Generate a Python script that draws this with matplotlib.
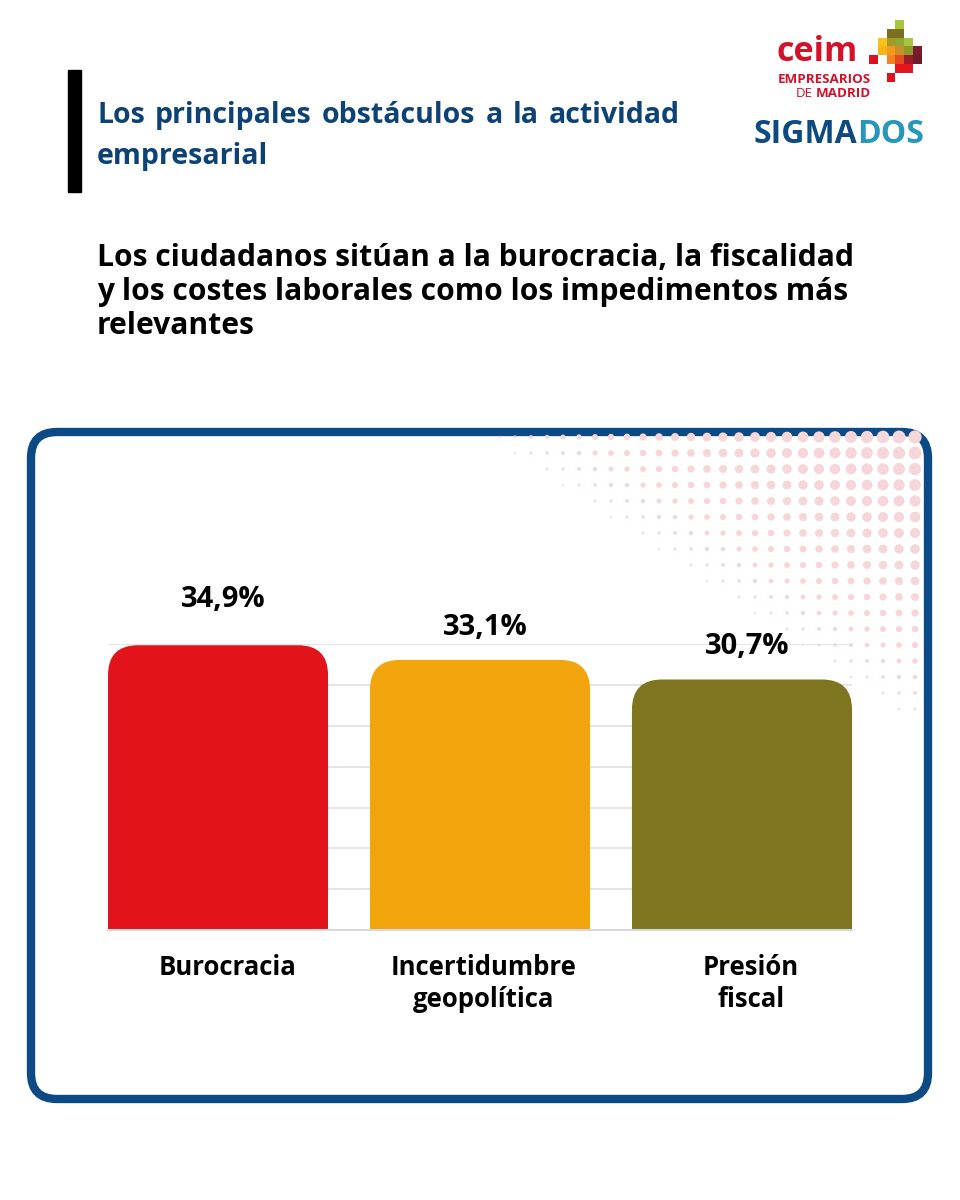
import matplotlib.pyplot as plt
from matplotlib.patches import FancyBboxPatch, Rectangle
import numpy as np

## Data ##
categories = ["Burocracia", "Incertidumbre\ngeopolítica", "Presión\nfiscal"]
values = [34.9, 33.1, 30.7]
value_labels = ["34,9%", "33,1%", "30,7%"]
bar_colors = ["#e3131b", "#f2a40c", "#7f7420"]

title_lines = ["Los principales obstáculos a la actividad", "empresarial"]
subtitle_lines = ["Los ciudadanos sitúan a la burocracia, la fiscalidad",
                  "y los costes laborales como los impedimentos más",
                  "relevantes"]

NAVY = "#0d4276"
FONT = "Open Sans"

fig = plt.figure(figsize=(9.6, 12), dpi=100)
fig.patch.set_facecolor("white")
renderer = fig.canvas.get_renderer()

## Background layer in pixel coordinates ##
bg = fig.add_axes([0, 0, 1, 1])
bg.set_xlim(0, 960)
bg.set_ylim(1200, 0)
bg.axis("off")

# black accent bar next to the title
bg.add_patch(Rectangle((68, 70), 13, 122, color="black"))

# justified title: first line spread between x0 and x1
def justified(words, y, x0, x1, **kw):
    texts = [bg.text(0, y, w, **kw) for w in words]
    widths = [t.get_window_extent(renderer).width for t in texts]
    gap = (x1 - x0 - sum(widths)) / (len(words) - 1)
    xp = x0
    for t, w in zip(texts, widths):
        t.set_x(xp)
        xp += w + gap

tkw = dict(fontsize=20.5, fontweight="bold", family=FONT, color=NAVY,
           va="baseline", ha="left")
justified(title_lines[0].split(), 123, 97, 680, **tkw)
bg.text(97, 164, title_lines[1], **tkw)

for i, line in enumerate(subtitle_lines):
    bg.text(97, 266 + i * 34, line, fontsize=21.6, fontweight="bold",
            family=FONT, color="black", va="baseline", ha="left")

## Logos ##
bg.text(777, 61, "ceim", fontsize=24.5, fontweight="bold", family=FONT,
        color="#d3122a", va="baseline", ha="left")
bg.text(871, 83, "EMPRESARIOS", fontsize=9.6, fontweight="bold", family=FONT,
        color="#d3122a", va="baseline", ha="right")
bg.text(871, 97, "MADRID", fontsize=9.6, fontweight="bold", family=FONT,
        color="#d3122a", va="baseline", ha="right")
bg.text(813, 97, "DE", fontsize=9.6, family=FONT,
        color="#d3122a", va="baseline", ha="right")

mosaic = [
    (0, 3, "#a8c53c"),
    (1, 2, "#7c6f20"), (1, 3, "#7c6f20"),
    (2, 1, "#f9c31a"), (2, 2, "#a69a2a"), (2, 3, "#90a830"), (2, 4, "#a8c53c"),
    (3, 1, "#f7b41a"), (3, 2, "#f39a1c"), (3, 3, "#c9902a"), (3, 4, "#8c9a2a"),
    (3, 5, "#7a1c2e"),
    (4, 0, "#d9141e"), (4, 2, "#f58220"), (4, 3, "#e64a1e"), (4, 4, "#9b1b2b"),
    (4, 5, "#6e1a2a"),
    (5, 3, "#e3151e"), (5, 4, "#e3151e"),
    (6, 2, "#d9141e"),
]
cell = 8.8
for r, c, col in mosaic:
    bg.add_patch(Rectangle((869 + c * cell, 20 + r * cell), cell, cell, color=col, lw=0))

bg.text(857, 143, "SIGMA", fontsize=23, fontweight="bold", family=FONT,
        color="#0d4a80", va="baseline", ha="right")
bg.text(857, 143, "DOS", fontsize=23, fontweight="bold", family=FONT,
        color="#2796bb", va="baseline", ha="left")

## Card with rounded border ##
bg.add_patch(FancyBboxPatch((31, 432), 897, 667,
                            boxstyle="round,pad=0,rounding_size=26",
                            facecolor="white", edgecolor="#0b4a85", lw=6))

# decorative halftone dots in the top-right of the card
gx, gy = np.meshgrid(np.arange(915, 490, -16), np.arange(437, 720, 16))
u = (915 - gx) / 425 + (gy - 437) / 285
keep = u < 1.0
diam = 1.8 + 11.5 * (1 - u[keep]) ** 0.75
bg.scatter(gx[keep], gy[keep], s=(diam * 0.72) ** 2, color="#f5d6d9",
           lw=0, zorder=2)

## Chart ##
ax = fig.add_axes([108 / 960, 270 / 1200, 744 / 960, 286 / 1200])
ax.patch.set_alpha(0)
ymax = 35.05
ax.set_xlim(-0.42, 2.42)
ax.set_ylim(0, ymax)
for s in ["top", "right", "left"]:
    ax.spines[s].set_visible(False)
ax.spines["bottom"].set_color("#d9d9d9")
ax.spines["bottom"].set_linewidth(1.5)
ax.set_yticks(np.arange(5, 36, 5))
ax.set_yticklabels([])
ax.tick_params(axis="y", length=0)
ax.grid(axis="y", color="#e3e3e3", lw=1.3)
ax.set_axisbelow(True)

x = np.arange(len(categories))
width = 0.84
bars = ax.bar(x, values, width=width, color=bar_colors, zorder=2)

# rounded tops: the bar keeps its lower part, a rounded box covers the rest
px_per_x = 744 / 2.84
px_per_y = 286 / ymax
r_px = 30
r_x = r_px / px_per_x
asp = px_per_x / px_per_y
for rect, col in zip(bars, bar_colors):
    x0, w, h = rect.get_x(), rect.get_width(), rect.get_height()
    rect.set_height(h / 2)
    ax.add_patch(FancyBboxPatch((x0, 0), w, h,
                                boxstyle=f"round,pad=0,rounding_size={r_x}",
                                mutation_aspect=asp, facecolor=col,
                                edgecolor="none", zorder=2))

label_offsets = [46, 32, 33]  # px above bar top
for xi, v, lab, off in zip(x, values, value_labels, label_offsets):
    ax.annotate(lab, (xi + 0.02, v), xytext=(0, off * 0.72), textcoords="offset points",
                ha="center", va="center", fontsize=21, fontweight="bold",
                family=FONT, color="black", annotation_clip=False)

ax.set_xticks(x + np.array([0.035, 0.015, 0.035]))
ax.set_xticklabels(categories, fontsize=18.5, fontweight="bold", family=FONT,
                   linespacing=1.25)
ax.tick_params(axis="x", length=0, pad=17)

fig.savefig("out.png", dpi=100)
